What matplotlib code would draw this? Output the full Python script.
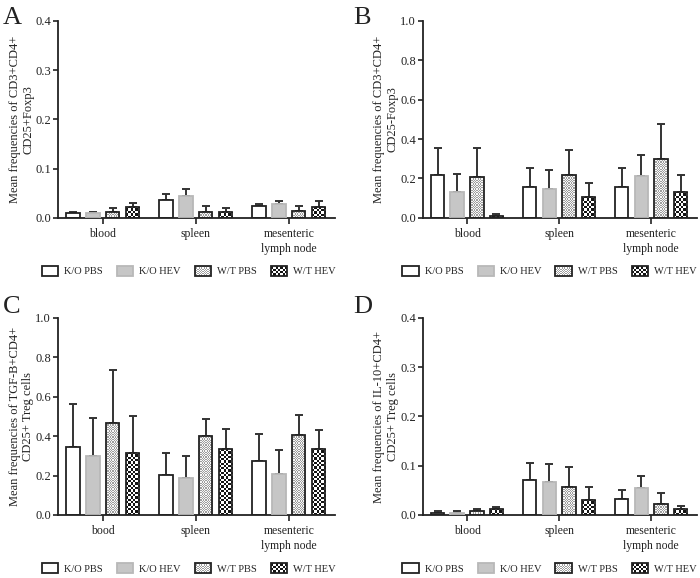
import numpy as np
import matplotlib
matplotlib.use("Agg")
import matplotlib.pyplot as plt
from matplotlib.patches import Rectangle
from matplotlib.legend_handler import HandlerBase

plt.rcParams['font.family'] = ['Liberation Serif', 'DejaVu Serif']

# ---------------- data ----------------
groups = ["K/O PBS", "K/O HEV", "W/T PBS", "W/T HEV"]
cats_A = ["blood", "spleen", "mesenteric\nlymph node"]
cats_C = ["bood", "spleen", "mesenteric\nlymph node"]

# Panel A: CD3+CD4+CD25+Foxp3
A_mean = {"K/O PBS": [0.009, 0.037, 0.024],
          "K/O HEV": [0.009, 0.044, 0.028],
          "W/T PBS": [0.013, 0.012, 0.014],
          "W/T HEV": [0.023, 0.013, 0.022]}
A_top = {"K/O PBS": [0.013, 0.049, 0.028],
         "K/O HEV": [0.013, 0.058, 0.035],
         "W/T PBS": [0.020, 0.024, 0.024],
         "W/T HEV": [0.031, 0.021, 0.035]}

# Panel B: CD3+CD4+CD25-Foxp3
B_mean = {"K/O PBS": [0.216, 0.157, 0.157],
          "K/O HEV": [0.132, 0.145, 0.211],
          "W/T PBS": [0.209, 0.216, 0.297],
          "W/T HEV": [0.010, 0.108, 0.133]}
B_top = {"K/O PBS": [0.354, 0.255, 0.255],
         "K/O HEV": [0.223, 0.241, 0.317],
         "W/T PBS": [0.353, 0.344, 0.476],
         "W/T HEV": [0.020, 0.177, 0.219]}

# Panel C: TGF-B+CD4+CD25+ Treg
C_mean = {"K/O PBS": [0.343, 0.201, 0.274],
          "K/O HEV": [0.299, 0.186, 0.206],
          "W/T PBS": [0.468, 0.399, 0.406],
          "W/T HEV": [0.316, 0.333, 0.335]}
C_top = {"K/O PBS": [0.561, 0.316, 0.409],
         "K/O HEV": [0.494, 0.298, 0.328],
         "W/T PBS": [0.734, 0.487, 0.507],
         "W/T HEV": [0.500, 0.436, 0.429]}

# Panel D: IL-10+CD4+CD25+ Treg
D_mean = {"K/O PBS": [0.005, 0.071, 0.032],
          "K/O HEV": [0.005, 0.067, 0.054],
          "W/T PBS": [0.008, 0.057, 0.022],
          "W/T HEV": [0.013, 0.031, 0.013]}
D_top = {"K/O PBS": [0.009, 0.105, 0.050],
         "K/O HEV": [0.008, 0.103, 0.079],
         "W/T PBS": [0.013, 0.097, 0.045],
         "W/T HEV": [0.017, 0.056, 0.018]}

ylabels = ["Mean frequencies of CD3+CD4+\nCD25+Foxp3",
           "Mean frequencies of CD3+CD4+\nCD25-Foxp3",
           "Mean frequencies of TGF-B+CD4+\nCD25+ Treg cells",
           "Mean frequencies of IL-10+CD4+\nCD25+ Treg cells"]
ymax = [0.4, 1.0, 1.0, 0.4]
yticks = [[0.0, 0.1, 0.2, 0.3, 0.4],
          [0.0, 0.2, 0.4, 0.6, 0.8, 1.0],
          [0.0, 0.2, 0.4, 0.6, 0.8, 1.0],
          [0.0, 0.1, 0.2, 0.3, 0.4]]
letters = ["A", "B", "C", "D"]

# ---------------- style ----------------
DARK = "#222222"
GRAY_FACE = "#c6c6c6"
GRAY_EDGE = "#b8b8b8"
styles = {
    "K/O PBS": dict(face="white", edge=DARK, pattern=None),
    "K/O HEV": dict(face=GRAY_FACE, edge=GRAY_EDGE, pattern=None),
    "W/T PBS": dict(face="white", edge=DARK, pattern="stipple"),
    "W/T HEV": dict(face="white", edge=DARK, pattern="checker"),
}


def pattern_array(kind, nx, ny):
    ii, jj = np.meshgrid(np.arange(ny), np.arange(nx), indexing="ij")
    chk = ((ii + jj) % 2).astype(float)
    if kind == "checker":
        col_a = np.array([1.0, 1.0, 1.0])
        col_b = np.array([0.08, 0.08, 0.08])
    else:
        col_a = np.array([0.97, 0.97, 0.97])
        col_b = np.array([0.62, 0.62, 0.62])
    img = col_a[None, None, :] * (1 - chk[..., None]) + col_b[None, None, :] * chk[..., None]
    return img


class PatternHandler(HandlerBase):
    def __init__(self, kind, face, edge):
        super().__init__()
        self.kind, self.face, self.edge = kind, face, edge

    def create_artists(self, legend, orig_handle, xdescent, ydescent,
                       width, height, fontsize, trans):
        arts = []
        bg = Rectangle((-xdescent, -ydescent), width, height, facecolor=self.face,
                       edgecolor="none", transform=trans)
        arts.append(bg)
        if self.kind is not None:
            cell = 2.3 if self.kind == "checker" else 1.2
            cell_pt = cell * 72.0 / legend.figure.dpi
            nx = max(1, int(round(width / cell_pt)))
            ny = max(1, int(round(height / cell_pt)))
            cw, ch = width / nx, height / ny
            dark = "#141414" if self.kind == "checker" else "#9e9e9e"
            for i in range(ny):
                for j in range(nx):
                    if (i + j) % 2:
                        arts.append(Rectangle((-xdescent + j * cw, -ydescent + i * ch), cw, ch,
                                              facecolor=dark, edgecolor="none", transform=trans))
        outline = Rectangle((-xdescent, -ydescent), width, height, facecolor="none",
                            edgecolor=self.edge, linewidth=1.3, transform=trans)
        arts.append(outline)
        return arts


fig = plt.figure(figsize=(7.0, 5.78), dpi=100)

positions = [(0.083, 0.623, 0.396, 0.341),
             (0.604, 0.623, 0.392, 0.341),
             (0.083, 0.109, 0.396, 0.341),
             (0.604, 0.109, 0.392, 0.341)]
means = [A_mean, B_mean, C_mean, D_mean]
tops = [A_top, B_top, C_top, D_top]
catlists = [cats_A, cats_A, cats_C, cats_A]
legend_x = [0.472, 0.462, 0.472, 0.462]

offsets = [-0.32, -0.107, 0.107, 0.32]
barw = 0.145

for k in range(4):
    ax = fig.add_axes(positions[k])
    x = np.arange(3)
    ax.set_xlim(-0.48, 2.5)
    ax.set_ylim(0, ymax[k])
    containers = {}
    for gi, g in enumerate(groups):
        st = styles[g]
        m = np.array(means[k][g])
        t = np.array(tops[k][g])
        xs = x + offsets[gi]
        ax.errorbar(xs, m, yerr=[np.zeros_like(m), t - m], fmt="none",
                    ecolor="#333333", elinewidth=1.4, capsize=3.0, capthick=1.4, zorder=1)
        bars = ax.bar(xs, m, width=barw, facecolor=st["face"], edgecolor="none",
                      linewidth=0, zorder=2)
        containers[g] = bars
    fig.canvas.draw()
    for gi, g in enumerate(groups):
        st = styles[g]
        bars = containers[g]
        if st["pattern"] is not None:
            cell = 2.3 if st["pattern"] == "checker" else 1.2
            for p in bars.patches:
                x0, y0 = p.get_x(), p.get_y()
                w, h = p.get_width(), p.get_height()
                (px0, py0) = ax.transData.transform((x0, y0))
                (px1, py1) = ax.transData.transform((x0 + w, y0 + h))
                nx = max(1, int(round((px1 - px0) / cell)))
                ny = max(1, int(round((py1 - py0) / cell)))
                img = pattern_array(st["pattern"], nx, ny)
                im = ax.imshow(img, extent=(x0, x0 + w, y0, y0 + h), origin="lower",
                               interpolation="nearest", aspect="auto", zorder=2.5)
                im.set_clip_path(p)
        for p in bars.patches:
            ax.add_patch(Rectangle((p.get_x(), p.get_y()), p.get_width(), p.get_height(),
                                   facecolor="none", edgecolor=st["edge"], linewidth=1.3,
                                   zorder=3))
    ax.set_xlim(-0.48, 2.5)
    ax.set_ylim(0, ymax[k])
    ax.set_xticks(x)
    ax.set_xticklabels(catlists[k], fontsize=8.5, color=DARK, linespacing=1.35,
                       va="top")
    ax.set_yticks(yticks[k])
    ax.set_yticklabels(["%.1f" % v for v in yticks[k]], fontsize=9, color=DARK)
    for s in ["top", "right"]:
        ax.spines[s].set_visible(False)
    for s in ["left", "bottom"]:
        ax.spines[s].set_linewidth(1.3)
        ax.spines[s].set_color(DARK)
    ax.tick_params(axis="y", length=3.5, width=1.2, color=DARK, pad=1.5)
    ax.tick_params(axis="x", length=4, width=1.2, color=DARK, pad=3)
    ax.set_ylabel(ylabels[k], fontsize=9, color=DARK, labelpad=1, linespacing=1.15)

    handles = [Rectangle((0, 0), 1, 1) for _ in groups]
    hmap = {h: PatternHandler(styles[g]["pattern"], styles[g]["face"], styles[g]["edge"])
            for h, g in zip(handles, groups)}
    ax.legend(handles, groups, handler_map=hmap, loc="upper center",
              bbox_to_anchor=(legend_x[k], -0.245), ncol=4, frameon=False, fontsize=7.5,
              handlelength=1.55, handleheight=1.0, handletextpad=0.6,
              columnspacing=1.35, borderaxespad=0, borderpad=0, labelcolor=DARK)

fig.text(0.004, 0.988, "A", fontsize=19, va="top", ha="left", color=DARK)
fig.text(0.504, 0.988, "B", fontsize=19, va="top", ha="left", color=DARK)
fig.text(0.004, 0.488, "C", fontsize=19, va="top", ha="left", color=DARK)
fig.text(0.504, 0.488, "D", fontsize=19, va="top", ha="left", color=DARK)

fig.savefig("out.png", dpi=100)
